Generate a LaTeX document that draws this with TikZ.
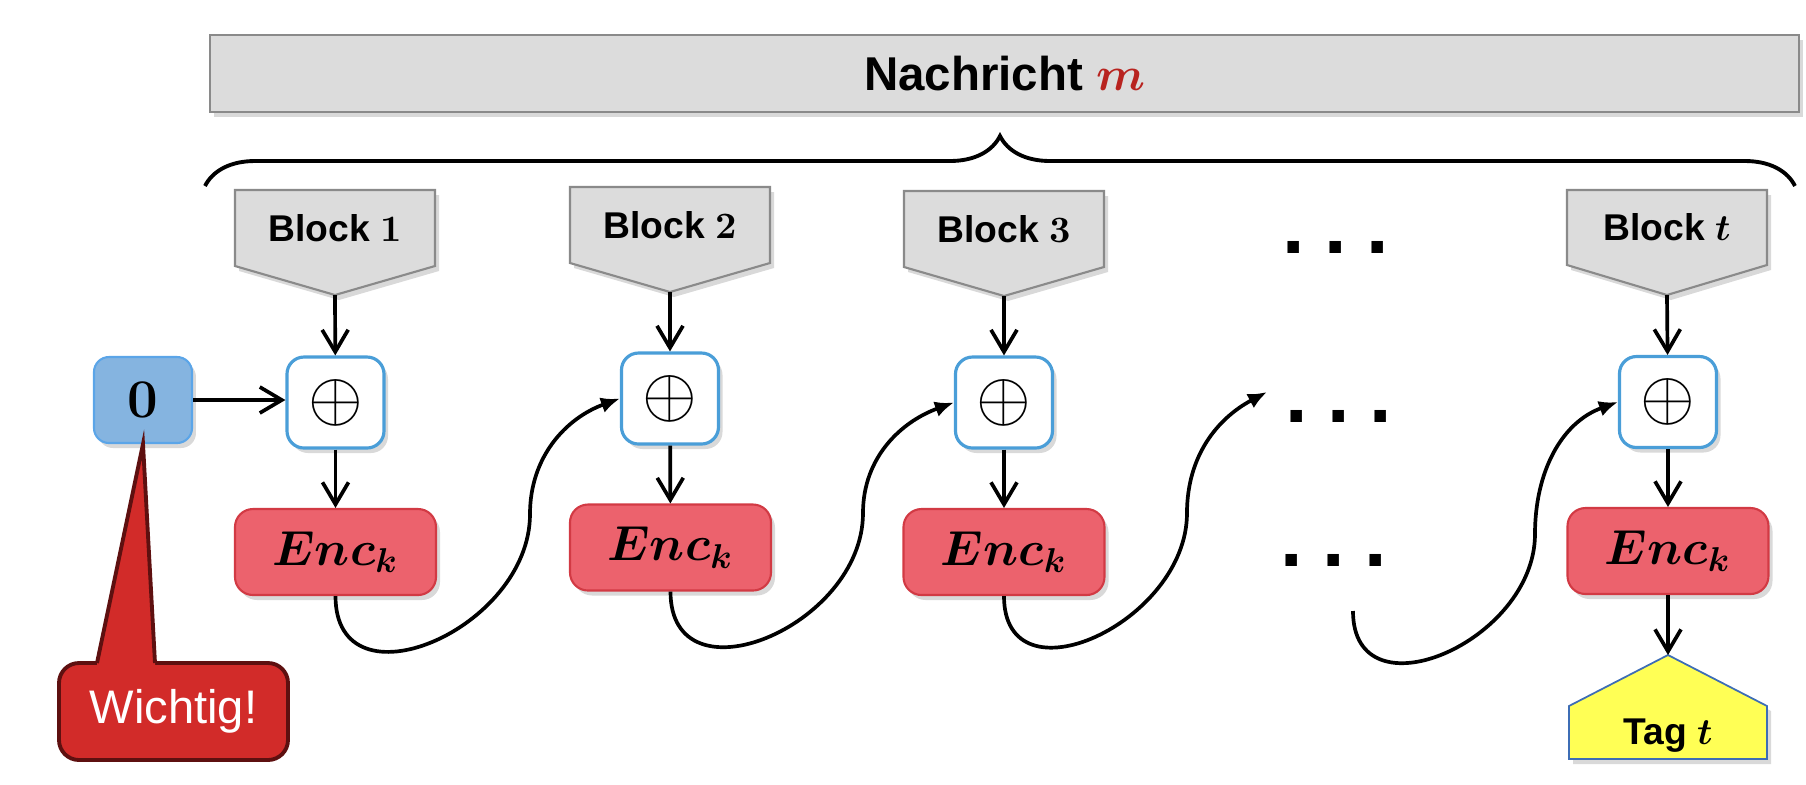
\RequirePackage{fix-cm}
\documentclass[tikz,border=0pt]{standalone}
\usepackage{amsmath, amsfonts}
\usepackage[no-math]{fontspec}
\setmainfont{Liberation Sans}
\usepackage{tikz}
\usetikzlibrary{arrows.meta, decorations.pathreplacing, shadows, positioning}
\usetikzlibrary{calc}
\usepackage{xcolor}

\definecolor{boxgray}{HTML}{DCDCDC}
\definecolor{boxline}{HTML}{8A8A8A}
\definecolor{xorblue}{HTML}{4A9ED8}
\definecolor{zeroblue}{HTML}{85B4E0}
\definecolor{zeroline}{HTML}{5BA5E8}
\definecolor{encred}{HTML}{EC626D}
\definecolor{encline}{HTML}{D23A44}
\definecolor{tagyellow}{HTML}{FFFF55}
\definecolor{tagline}{HTML}{3D6DB5}
\definecolor{warnred}{HTML}{D22B29}
\definecolor{warnline}{HTML}{5E1010}
\definecolor{mred}{HTML}{B8231F}

\newcommand{\nachrichtfont}{\fontsize{13.5}{16}\selectfont\bfseries}
\newcommand{\blockfont}{\fontsize{10.6}{13}\selectfont\bfseries}
\newcommand{\symfont}{\fontsize{14}{16}\selectfont}
\newcommand{\xorfont}{\fontsize{20}{22}\selectfont}
\newcommand{\zerofont}{\fontsize{15.5}{18}\selectfont}
\newcommand{\wichtigfont}{\fontsize{13.4}{16}\selectfont}
\newcommand{\pointsfont}{\fontsize{23}{26}\selectfont\bfseries}

\begin{document}
\begin{tikzpicture}[
		line width=1.05pt,
		softshadow/.style={drop shadow={shadow xshift=0.04cm, shadow yshift=-0.05cm, opacity=0.3}},
		graybox/.style={fill=boxgray, draw=boxline, line width=0.6pt, softshadow},
		xorbox/.style={fill=white, draw=xorblue, line width=0.9pt, rounded corners=0.17cm, inner sep=0pt, minimum width=0.97cm, minimum height=0.91cm, font=\xorfont, softshadow},
		encbox/.style={fill=encred, draw=encline, line width=0.6pt, rounded corners=0.18cm, inner sep=0pt, minimum width=2.01cm, minimum height=0.86cm, font=\symfont, softshadow},
		zerobox/.style={fill=zeroblue, draw=zeroline, line width=0.6pt, rounded corners=0.15cm, inner sep=0pt, minimum width=0.98cm, minimum height=0.86cm, font=\zerofont, softshadow},
		warnbox/.style={fill=warnred, draw=warnline, line width=1.1pt, rounded corners=0.2cm, inner sep=0pt, minimum width=2.29cm, minimum height=0.97cm, font=\wichtigfont, text=white},
		tagshape/.style={fill=tagyellow, draw=tagline, line width=0.5pt, softshadow},
		flow/.style={-{Straight Barb[length=2.2mm, width=2.6mm]}},
		loopback/.style={-{Latex[length=1.9mm, width=1.6mm]}}
	]
		\useasboundingbox (0cm, 0cm) rectangle (18.06cm, -7.84cm);

		% Nachricht und Klammer
		\draw (10.045cm, -0.735cm) node[graybox, inner sep=0pt, minimum width=15.89cm, minimum height=0.77cm, font=\nachrichtfont] (msg) {Nachricht \textcolor{mred}{$\boldsymbol{m}$}};
		\coordinate (bl) at (2.05cm, -1.86cm);
		\coordinate (br) at (17.95cm, -1.86cm);
		\draw[decorate, decoration={brace, amplitude=0.5cm}, line width=1.1pt] (bl) -- (br);

		% Bloecke
		\draw[graybox] (2.35cm, -1.90cm) -- ++(2cm, 0) -- ++(0, -0.76cm) -- ++(-1cm, -0.29cm) coordinate (b1tip) -- ++(-1cm, 0.29cm) -- cycle;
		\draw[graybox] (5.70cm, -1.87cm) -- ++(2cm, 0) -- ++(0, -0.76cm) -- ++(-1cm, -0.29cm) coordinate (b2tip) -- ++(-1cm, 0.29cm) -- cycle;
		\draw[graybox] (9.04cm, -1.91cm) -- ++(2cm, 0) -- ++(0, -0.76cm) -- ++(-1cm, -0.29cm) coordinate (b3tip) -- ++(-1cm, 0.29cm) -- cycle;
		\draw[graybox] (15.67cm, -1.90cm) -- ++(2cm, 0) -- ++(0, -0.75cm) -- ++(-1cm, -0.30cm) coordinate (bttip) -- ++(-1cm, 0.30cm) -- cycle;
		\draw (3.35cm, -2.28cm) node[font=\blockfont] (b1) {Block $\mathbf{1}$}
		(6.70cm, -2.25cm) node[font=\blockfont] (b2) {Block $\mathbf{2}$}
		(10.04cm, -2.29cm) node[font=\blockfont] (b3) {Block $\mathbf{3}$}
		(16.67cm, -2.275cm) node[font=\blockfont] (bt) {Block $\boldsymbol{t}$};

		% XOR, Enc
		\draw (1.43cm, -4.00cm) node[zerobox] (zero) {$\mathbf{0}$}
		(3.355cm, -4.025cm) node[xorbox] (x1) {$\oplus$}
		(6.70cm, -3.985cm) node[xorbox] (x2) {$\oplus$}
		(10.04cm, -4.025cm) node[xorbox] (x3) {$\oplus$}
		(16.68cm, -4.02cm) node[xorbox] (xt) {$\oplus$}
		(3.355cm, -5.52cm) node[encbox] (e1) {$\boldsymbol{Enc_k}$}
		(6.705cm, -5.475cm) node[encbox] (e2) {$\boldsymbol{Enc_k}$}
		(10.04cm, -5.52cm) node[encbox] (e3) {$\boldsymbol{Enc_k}$}
		(16.68cm, -5.51cm) node[encbox] (et) {$\boldsymbol{Enc_k}$};

		% Punkte
		\draw (13.355cm, -2.535cm) node[anchor=base, font=\pointsfont] (d1) {.\hspace{0.195cm}.\hspace{0.195cm}.}
		(13.385cm, -4.225cm) node[anchor=base, font=\pointsfont] (d2) {.\hspace{0.195cm}.\hspace{0.195cm}.}
		(13.335cm, -5.665cm) node[anchor=base, font=\pointsfont] (d3) {.\hspace{0.195cm}.\hspace{0.195cm}.};

		% Tag
		\draw[tagshape] (15.69cm, -7.59cm) -- ++(0, 0.53cm) -- ++(0.99cm, 0.51cm) coordinate (tagtip) -- ++(0.99cm, -0.51cm) -- ++(0, -0.53cm) -- cycle;
		\draw (16.68cm, -7.36cm) node[font=\blockfont] (tag) {Tag $\boldsymbol{t}$};

		% Wichtig!
		\draw (1.735cm, -7.115cm) node[warnbox] (warn) {Wichtig!};
		\coordinate (wl) at (0.97cm, -6.63cm);
		\coordinate (wr) at (1.55cm, -6.63cm);
		\fill[warnred] (wl) -- (zero.south) -- (wr) -- ++(0, -0.06cm) -- ($(wl)+(0, -0.06cm)$) -- cycle;
		\draw[warnline, line width=1.1pt] (wl) -- (zero.south) -- (wr);

		\draw[flow] (b1tip) -- (x1);
		\draw[flow] (b2tip) -- (x2);
		\draw[flow] (b3tip) -- (x3);
		\draw[flow] (bttip) -- (xt);
		\draw[flow] (zero) -- (zero -| x1.west);
		\draw[flow] (x1) -- (e1);
		\draw[flow] (x2) -- (e2);
		\draw[flow] (x3) -- (e3);
		\draw[flow] (xt) -- (et);
		\draw[flow] (et) -- (tagtip);

		% Verkettung
		\coordinate (m1) at (5.30cm, -5.14cm);
		\coordinate (m2) at (8.63cm, -5.13cm);
		\coordinate (m3) at (11.87cm, -5.13cm);
		\coordinate (f3) at (12.67cm, -3.92cm);
		\coordinate (s4) at (13.53cm, -6.11cm);
		\coordinate (m4) at (15.35cm, -5.34cm);
		\draw[loopback] (e1.south) to[out=-90, in=-90, looseness=1.4] (m1) to[out=90, in=200] (x2.west);
		\draw[loopback] (e2.south) to[out=-90, in=-90, looseness=1.4] (m2) to[out=90, in=200] (x3.west);
		\draw[loopback] (e3.south) to[out=-90, in=-90, looseness=1.4] (m3) to[out=90, in=208] (f3);
		\draw[loopback] (s4) to[out=-90, in=-90, looseness=1.4] (m4) to[out=90, in=200] (xt.west);
	\end{tikzpicture}
\end{document}
